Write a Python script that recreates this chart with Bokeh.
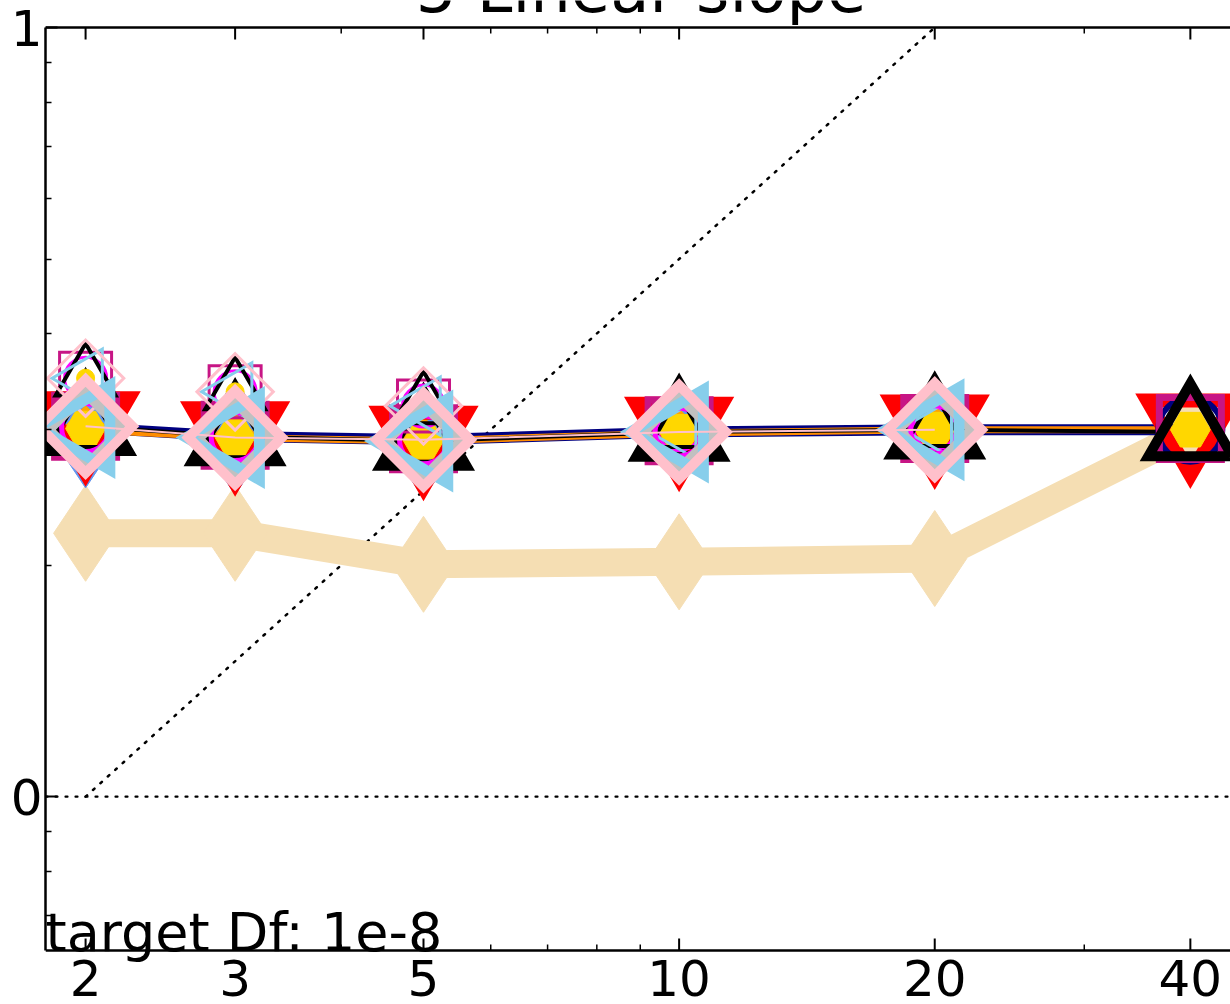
import numpy as np
from bokeh.plotting import figure
from bokeh.models import (Range1d, FixedTicker, CustomJSTickFormatter,
                          Label, LabelSet, ColumnDataSource, Span)
from bokeh.embed import file_html
from bokeh.resources import INLINE
from bokeh.core.properties import value

# ---------------- data ----------------
x_ticks = [2, 3, 5, 10, 20, 40]
x_tick_labels = ["2", "3", "5", "10", "20", "40"]
x_minor_ticks = [4, 6, 7, 8, 9, 30]
y_major_ticks = [1, 10]
y_minor_ticks = [0.7, 0.8, 0.9, 2, 3, 4, 5, 6, 7, 8, 9]

n_all = [2, 3, 5, 10, 20, 40]
n_short = [2, 3, 5, 10, 20]

wheat_y = [2.20, 2.20, 2.005, 2.02, 2.04, 2.99]
navy_y = [3.02, 2.94, 2.91, 2.98, 3.00, 3.00]
red_y = [3.06, 2.97, 2.93, 3.01, 3.03, 3.04]
mvr_y = [3.03, 2.95, 2.92, 2.99, 3.01, 3.01]
gold_y = [3.01, 2.93, 2.90, 2.98, 3.00, 3.00]
orange_y = [3.00, 2.93, 2.90, 2.97, 3.00, 3.00]
black_y = [3.03, 2.94, 2.90, 2.98, 3.00, 2.98]
cfblue_y = [2.98, 2.92, 2.89, 2.97, 2.99]
magenta_y = [3.02, 2.94, 2.91, 2.98, 3.00]
silver_y = [3.00, 2.92, 2.90, 2.97, 3.00]
skyblue_y = [3.02, 2.93, 2.90, 2.98, 3.00]
pink_y = [3.03, 2.93, 2.91, 2.98, 3.00]
upper_y = [3.50, 3.36, 3.22, 3.00, 3.01]

slope_x = [2, 20]
slope_y = [x / 2 for x in slope_x]
zero_level = 1.0

title_text = "5 Linear slope"
note_text = "target Df: 1e-8"

# ---------------- layout / styles ----------------
PX = 769.2                      # pixels per decade on the y axis
X0, X1 = 1.794, 44.6            # x extent of the plot box
Y_BOTTOM_AXIS, Y_TOP_AXIS = 10 ** -0.2, 10.0
Y0 = 10 ** (-0.2 - 54 / PX)     # frame runs below the bottom spine (room for tick labels)
Y1 = 10 ** (1 + 27 / PX)        # and above the top spine (room for the title)
FONT = "DejaVu Sans"
ROT = np.pi / 4
LEFT = np.pi / 2


def shift(level, px):
    return level * 10 ** (px / PX)


p = figure(width=1230, height=1004, x_axis_type="log", y_axis_type="log",
           x_range=Range1d(X0, X1), y_range=Range1d(Y0, Y1),
           output_backend="svg", toolbar_location=None, title=None,
           min_border_left=45, min_border_right=0, min_border_top=0,
           min_border_bottom=0)
p.outline_line_color = None
p.xgrid.visible = False
p.ygrid.visible = False
p.xaxis.visible = False
p.background_fill_color = "white"
p.border_fill_color = "white"

ya = p.yaxis[0]
ya.ticker = FixedTicker(ticks=y_major_ticks, minor_ticks=y_minor_ticks)
ya.formatter = CustomJSTickFormatter(code="return String(Math.round(Math.log10(tick)));")
ya.bounds = (Y_BOTTOM_AXIS, Y_TOP_AXIS)
ya.axis_line_width = 2.5
ya.axis_line_color = "black"
ya.major_tick_in = 12
ya.major_tick_out = 0
ya.minor_tick_in = 6
ya.minor_tick_out = 0
ya.major_tick_line_width = 2
ya.minor_tick_line_width = 1.5
ya.major_label_text_font = FONT
ya.major_label_text_font_size = "50px"
ya.major_label_text_color = "black"
ya.major_label_standoff = 3

# top and bottom spines with inward ticks
for lvl in (Y_BOTTOM_AXIS, Y_TOP_AXIS):
    p.add_layout(Span(location=lvl, dimension="width", line_color="black",
                      line_width=2.5))
for lvl, sgn in ((Y_BOTTOM_AXIS, 1), (Y_TOP_AXIS, -1)):
    p.scatter(x_ticks, [shift(lvl, sgn * 6)] * len(x_ticks), marker="dash",
              angle=np.pi / 2, size=12, line_color="black", line_width=2)
    p.scatter(x_minor_ticks, [shift(lvl, sgn * 3)] * len(x_minor_ticks), marker="dash",
              angle=np.pi / 2, size=6, line_color="black", line_width=1.5)

# reference lines
p.add_layout(Span(location=zero_level, dimension="width", line_color="black",
                  line_width=2.2, line_dash="2 8", line_cap="round"))
p.line(slope_x, slope_y, line_color="black", line_width=2.5, line_dash="2 8",
       line_cap="round")


def line(xs, ys, color, lw):
    p.line(xs, ys, line_color=color, line_width=lw, line_join="miter")


def marks(xs, ys, color, marker, size, fill=True, mlw=1, angle=0.0):
    p.scatter(xs, ys, marker=marker, size=size, angle=angle,
              fill_color=color if fill else None,
              line_color=color, line_width=mlw, line_join="miter")


# thick wheat series
line(n_all, wheat_y, "wheat", 28)
marks(n_all, wheat_y, "wheat", "diamond", 96)

# thin line bundle
line(n_all, navy_y, "navy", 11)
line(n_all, orange_y, "darkorange", 7)
line(n_all, black_y, "black", 4)

# big markers
marks(n_short, cfblue_y, "cornflowerblue", "diamond", 112)
marks(n_short, orange_y[:5], "orange", "square", 34, True, 1, ROT)
marks(n_all, red_y, "red", "inverted_triangle", 86, False, 14)
marks(n_all, navy_y, "navy", "circle", 64, False, 6)
marks(n_all, mvr_y, "mediumvioletred", "square", 62, False, 7)
marks(n_all, gold_y, "gold", "hex", 40)
marks(n_short, black_y[:5], "black", "triangle", 84, False, 11)

# smaller, higher cluster
marks(n_short, upper_y, "gold", "circle", 18)
marks(n_short, upper_y, "mediumvioletred", "square", 52, False, 3)
marks(n_short, upper_y, "magenta", "circle", 42, False, 3)
marks(n_short, upper_y, "black", "triangle", 60, False, 4)
marks(n_short, upper_y, "skyblue", "triangle", 58, False, 3, LEFT)
marks(n_short, upper_y, "pink", "square", 54, False, 3, ROT)

marks(n_short, magenta_y, "magenta", "circle", 48, False, 5)
marks(n_short, silver_y, "silver", "square", 52, False, 10, ROT)
marks(n_short, skyblue_y, "skyblue", "triangle", 84, False, 11, LEFT)
line(n_short, pink_y, "pink", 2)
marks(n_short, pink_y, "pink", "square", 66, False, 10, ROT)

marks(n_all[5:], black_y[5:], "black", "triangle", 84, False, 10)

# x tick labels
lab_src = ColumnDataSource(dict(x=x_ticks,
                                y=[shift(Y_BOTTOM_AXIS, -27)] * len(x_ticks),
                                text=x_tick_labels))
p.add_layout(LabelSet(x="x", y="y", text="text", source=lab_src,
                      text_align="center", text_baseline="middle",
                      text_font=value(FONT), text_font_size=value("50px"),
                      text_color="black"))

# title (mostly above the window, as in the original) and note
p.add_layout(Label(x=9.02, y=shift(Y_TOP_AXIS, 37.5), text=title_text,
                   text_align="center", text_baseline="middle",
                   text_font=FONT, text_font_size="64px", text_color="black"))
p.add_layout(Label(x=X0, y=shift(Y_BOTTOM_AXIS, 18.3), text=note_text,
                   text_align="left", text_baseline="middle",
                   text_font=FONT, text_font_size="54px", text_color="black"))

open("out.html", "w").write(file_html(p, INLINE))
